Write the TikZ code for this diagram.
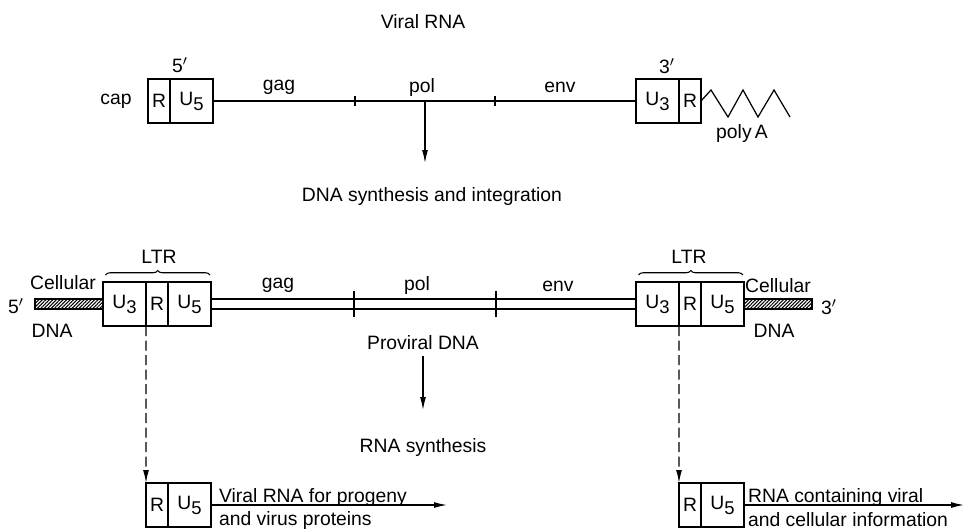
\documentclass[tikz,border=0pt]{standalone}
\usepackage{fontspec}
\setmainfont{Liberation Sans}
\usetikzlibrary{positioning,arrows.meta,decorations.pathreplacing,patterns.meta,calc}
\newcommand{\seglow}[1]{\raisebox{-0.5ex}{\fontsize{10.5}{12}\selectfont #1}}

\begin{document}
\begin{tikzpicture}[
  x=0.2mm,y=-0.2mm,
  font=\fontsize{11}{13}\selectfont,
  seg/.style={rectangle,draw,line width=0.7pt,minimum height=8.8mm,inner sep=0pt,outer sep=0pt},
  useg/.style={seg,minimum width=8.6mm},
  rseg/.style={seg,minimum width=4.4mm},
  hatchbar/.style={rectangle,draw,line width=0.6pt,minimum width=13.6mm,minimum height=2mm,
                   inner sep=0pt,outer sep=0pt,
                   pattern={Lines[angle=45,distance=1.4pt,line width=0.6pt]}},
  lbl/.style={inner sep=1pt},
  strand/.style={line width=0.7pt},
  tickmark/.style={line width=0.7pt},
  arr/.style={-{Latex[length=2.6mm,width=1.2mm]},line width=0.7pt},
  dasharr/.style={arr,dash pattern=on 2mm off 0.9mm},
  ltrbrace/.style={decorate,decoration={brace,amplitude=0.9mm},line width=0.6pt},
]
\useasboundingbox (0,0) rectangle (965,530);

% ---------- Viral RNA ----------
\node (vtitle) at (423,22) {Viral RNA};
\node[rseg,anchor=west] (tR) at (148,101) {R};
\node[useg,right=0pt of tR] (tU5) {U\seglow{5}};
\node[useg,anchor=west] (tU3) at (636,101) {U\seglow{3}};
\node[rseg,right=0pt of tU3] (tR3) {R};
\node (tcap) at (116,101) {cap};
\node (t5) at (180,65) {5$'$};
\node (t3) at (667,66) {3$'$};
\node (tgag) at (279,87) {gag};
\node (tpol) at (422,87) {pol};
\node (tenv) at (560,87) {env};
\node (tpoly) at (742,133) {poly\,A};
\draw[strand] (tU5) -- (tU3);
\foreach \x in {355,495}
  \draw[tickmark] (\x,96) -- (\x,106);
\draw[strand] (tR3.east) -- ++(10,-11) -- ++(17,27) -- ++(15,-27)
  -- ++(15,27) -- ++(16,-27) -- ++(16,27);

\coordinate (tsplit) at (425,101);
\coordinate (tsynthtop) at (425,163);
\draw[arr] (tsplit) -- (tsynthtop);
\node (tsynth) at (432,196) {DNA synthesis and integration};

% ---------- Proviral DNA ----------
\node[useg,anchor=west] (lU3) at (103,304) {U\seglow{3}};
\node[rseg,right=0pt of lU3] (lR) {R};
\node[useg,right=0pt of lR] (lU5) {U\seglow{5}};
\node[useg,anchor=west] (rU3) at (636,304) {U\seglow{3}};
\node[rseg,right=0pt of rU3] (rR) {R};
\node[useg,right=0pt of rR] (rU5) {U\seglow{5}};
\node[hatchbar,left=0pt of lU3] (lcell) {};
\node[hatchbar,right=0pt of rU5] (rcell) {};

\draw[strand] ([yshift=1mm]lU5.east) -- ([yshift=1mm]rU3.west);
\draw[strand] ([yshift=-1mm]lU5.east) -- ([yshift=-1mm]rU3.west);
\foreach \x in {354,496}
  \draw[tickmark] (\x,291) -- (\x,317);

\draw[ltrbrace] ([xshift=0.5mm,yshift=1.4mm]lU3.north west) -- ([xshift=-0.2mm,yshift=1.4mm]lU5.north east);
\draw[ltrbrace] ([xshift=0.5mm,yshift=1.4mm]rU3.north west) -- ([xshift=-0.2mm,yshift=1.4mm]rU5.north east);
\node (lltr) at (159,257) {LTR};
\node (rltr) at (689,257) {LTR};

\node (pgag) at (278,285) {gag};
\node (ppol) at (417,285) {pol};
\node (penv) at (558,286) {env};
\node (lcelltxt) at (63,283) {Cellular};
\node (ldnatxt) at (52,331) {DNA};
\node (rcelltxt) at (778,286) {Cellular};
\node (rdnatxt) at (774,331) {DNA};
\node (l5) at (16,306) {5$'$};
\node (r3) at (829,307) {3$'$};

\node (prov) at (423,343) {Proviral DNA};
\coordinate (rsynthtop) at (423,410);
\draw[arr] (prov.south) -- (rsynthtop);
\node (rsynth) at (423,447) {RNA synthesis};

% ---------- Transcripts ----------
\node[rseg,anchor=west] (bR) at (146,505) {R};
\node[useg,right=0pt of bR] (bU5) {U\seglow{5}};
\node[rseg,anchor=west] (cR) at (679,505) {R};
\node[useg,right=0pt of cR] (cU5) {U\seglow{5}};

\draw[dasharr] (lR.south west) -- (bR.north west);
\draw[dasharr] (rR.south west) -- (cR.north west);

\coordinate (bend) at (447,505);
\coordinate (cend) at (964,505);
\draw[arr] (bU5.east) -- (bend);
\draw[arr] (cU5.east) -- (cend);
\node[lbl,anchor=west] (bt1) at (217,497) {Viral RNA for progeny};
\node[lbl,anchor=west] (bt2) at (217,520) {and virus proteins};
\node[lbl,anchor=west] (ct1) at (746,497) {RNA containing viral};
\node[lbl,anchor=west] (ct2) at (746,520) {and cellular information};
\end{tikzpicture}
\end{document}
